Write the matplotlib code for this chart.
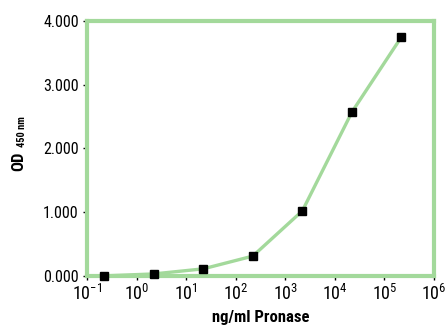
import matplotlib.pyplot as plt

plt.rcParams['font.family'] = ['Roboto Condensed', 'DejaVu Sans']
plt.rcParams['mathtext.fontset'] = 'custom'
plt.rcParams['mathtext.rm'] = 'Roboto Condensed'
plt.rcParams['mathtext.it'] = 'Roboto Condensed'
plt.rcParams['mathtext.bf'] = 'Roboto Condensed:bold'

# ng/ml Pronase vs OD 450 nm
conc = [0.22, 2.2, 22, 220, 2200, 22000, 220000]
od = [0.0, 0.03, 0.11, 0.31, 1.02, 2.57, 3.75]

green = '#a3d99b'

fig = plt.figure(figsize=(4.47, 3.28), dpi=100)
ax = fig.add_axes([0.195, 0.159, 0.776, 0.777])
ax.plot(conc, od, color=green, lw=2.4, zorder=2)
ax.plot(conc, od, 's', color='black', ms=6, zorder=3, clip_on=False)
ax.set_xscale('log')
ax.set_xlim(0.1, 1e6)
ax.set_ylim(0, 4)
ax.set_yticks([0, 1, 2, 3, 4])
ax.set_yticklabels(['0.000', '1.000', '2.000', '3.000', '4.000'])
ax.set_xticks([10.0**k for k in range(-1, 7)])
ax.minorticks_off()
for s in ax.spines.values():
    s.set_color(green)
    s.set_linewidth(3)
ax.tick_params(axis='both', length=3, width=1, color='black', pad=3)
ax.tick_params(axis='y', labelsize=11.5)
ax.tick_params(axis='x', labelsize=13)
ax.set_xlabel('ng/ml Pronase', fontsize=12, fontweight='bold', labelpad=4)
fig.text(0.0425, 0.508, 'OD', rotation=90, fontsize=12, fontweight='bold', ha='center', va='center')
fig.text(0.049, 0.600, '450 nm', rotation=90, fontsize=7.5, fontweight='bold', ha='center', va='center')
fig.savefig('out.png', dpi=100)
